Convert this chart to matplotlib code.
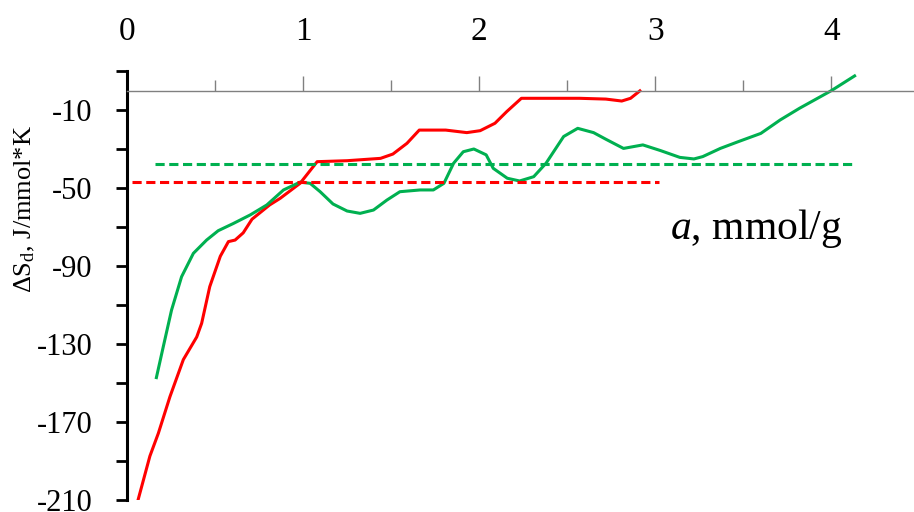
import matplotlib
matplotlib.use("Agg")
import matplotlib.pyplot as plt
from matplotlib.ticker import MultipleLocator

plt.rcParams['font.family'] = ['Liberation Serif', 'DejaVu Serif']
plt.rcParams['mathtext.fontset'] = 'custom'
plt.rcParams['mathtext.rm'] = 'Liberation Serif'
plt.rcParams['mathtext.it'] = 'Liberation Serif:italic'

# red curve (a, mmol/g ; dS, J/mmol*K)
red_a = [0.06, 0.13, 0.178, 0.244, 0.32, 0.396, 0.424, 0.47, 0.53, 0.576, 0.614,
         0.66, 0.71, 0.81, 0.87, 0.983, 1.08, 1.25, 1.44, 1.51, 1.59, 1.66,
         1.81, 1.93, 2.006, 2.09, 2.157, 2.24, 2.31, 2.57, 2.72, 2.81, 2.86, 2.92]
red_s = [-210.9, -187.5, -175.8, -157, -138, -126.4, -119.4, -100.6, -85, -77.5, -76.7,
         -73, -66, -58.7, -55.3, -47.6, -36.5, -36, -34.8, -32.6, -27.1, -20.3,
         -20.3, -21.6, -20.6, -16.8, -10.8, -4, -4, -4, -4.4, -5.4, -4, 0.3]

# green curve
green_a = [0.165, 0.206, 0.253, 0.31, 0.377, 0.452, 0.518, 0.604, 0.70, 0.794, 0.889,
           0.983, 1.04, 1.097, 1.17, 1.25, 1.324, 1.40, 1.476, 1.55, 1.665, 1.74,
           1.80, 1.855, 1.91, 1.97, 2.04, 2.08, 2.16, 2.23, 2.31, 2.38, 2.48, 2.56,
           2.65, 2.72, 2.82, 2.93, 3.03, 3.14, 3.22, 3.27, 3.37, 3.47, 3.60, 3.71,
           3.82, 4.0, 4.14]
green_s = [-148, -131.4, -112.6, -95.5, -83.5, -76.7, -71.9, -68.2, -63.8, -58.7, -51,
           -47, -47.6, -51.9, -58.2, -61.8, -63, -61.3, -56.2, -51.9, -51, -51,
           -47.6, -37.3, -31.4, -30, -33, -39.9, -45, -46.4, -44.2, -37.3, -23.6, -19.4,
           -21.6, -25, -29.7, -27.9, -30.8, -34.3, -35.1, -33.9, -29.7, -26.3, -22, -15.1,
           -9.1, -0.1, 7.9]

# mean levels (dashed)
red_mean = -47
red_mean_a = [0.03, 3.02]
green_mean = -37.7
green_mean_a = [0.16, 4.14]

y_ticks = [-210, -190, -170, -150, -130, -110, -90, -70, -50, -30, -10, 10]
y_labels = ['-210', '', '-170', '', '-130', '', '-90', '', '-50', '', '-10', '']
x_ticks = [0, 1, 2, 3, 4]

fig = plt.figure(figsize=(9.14, 5.12), dpi=100)
ax = fig.add_axes([127 / 914, 12 / 512, 787 / 914, 429 / 512])

lw = 2.2
ax.plot(red_a, red_s, color='#FF0000', lw=lw, solid_capstyle='butt', solid_joinstyle='round')
ax.plot(green_a, green_s, color='#00B050', lw=lw, solid_capstyle='butt', solid_joinstyle='round')
ax.plot(red_mean_a, [red_mean, red_mean], color='#FF0000', lw=lw, ls=(0, (3, 1.5)))
ax.plot(green_mean_a, [green_mean, green_mean], color='#00B050', lw=lw, ls=(0, (3, 1.5)))

ax.set_xlim(0, 4.47)
ax.set_ylim(-210, 10)

ax.spines['right'].set_visible(False)
ax.spines['top'].set_visible(False)
ax.spines['bottom'].set_position(('data', 0))
ax.spines['bottom'].set_color('#808080')
ax.spines['bottom'].set_linewidth(1.0)
ax.spines['left'].set_linewidth(2.2)
ax.spines['left'].set_color('black')

ax.set_xticks(x_ticks)
ax.set_xticklabels([str(v) for v in x_ticks])
ax.xaxis.set_minor_locator(MultipleLocator(0.5))
ax.tick_params(axis='x', which='major', direction='in', length=11, width=1.0,
               color='#808080', bottom=True, top=False, labelbottom=False,
               labeltop=True, labelsize=24, pad=17)
ax.tick_params(axis='x', which='minor', direction='in', length=8, width=1.0,
               color='#808080', bottom=True, top=False)

ax.set_yticks(y_ticks)
ax.set_yticklabels(y_labels)
ax.tick_params(axis='y', direction='out', length=8, width=2.0, labelsize=22, pad=17)

fig.text(25 / 914, 1 - 209 / 512, r'$\Delta$S$_\mathrm{d}$, J/mmol*K', rotation=90,
         ha='center', va='center', fontsize=19)
fig.text(756 / 914, 1 - 228 / 512, r'$\mathit{a}$, mmol/g', ha='center', va='center',
         fontsize=30)

fig.savefig('out.png', dpi=100)
